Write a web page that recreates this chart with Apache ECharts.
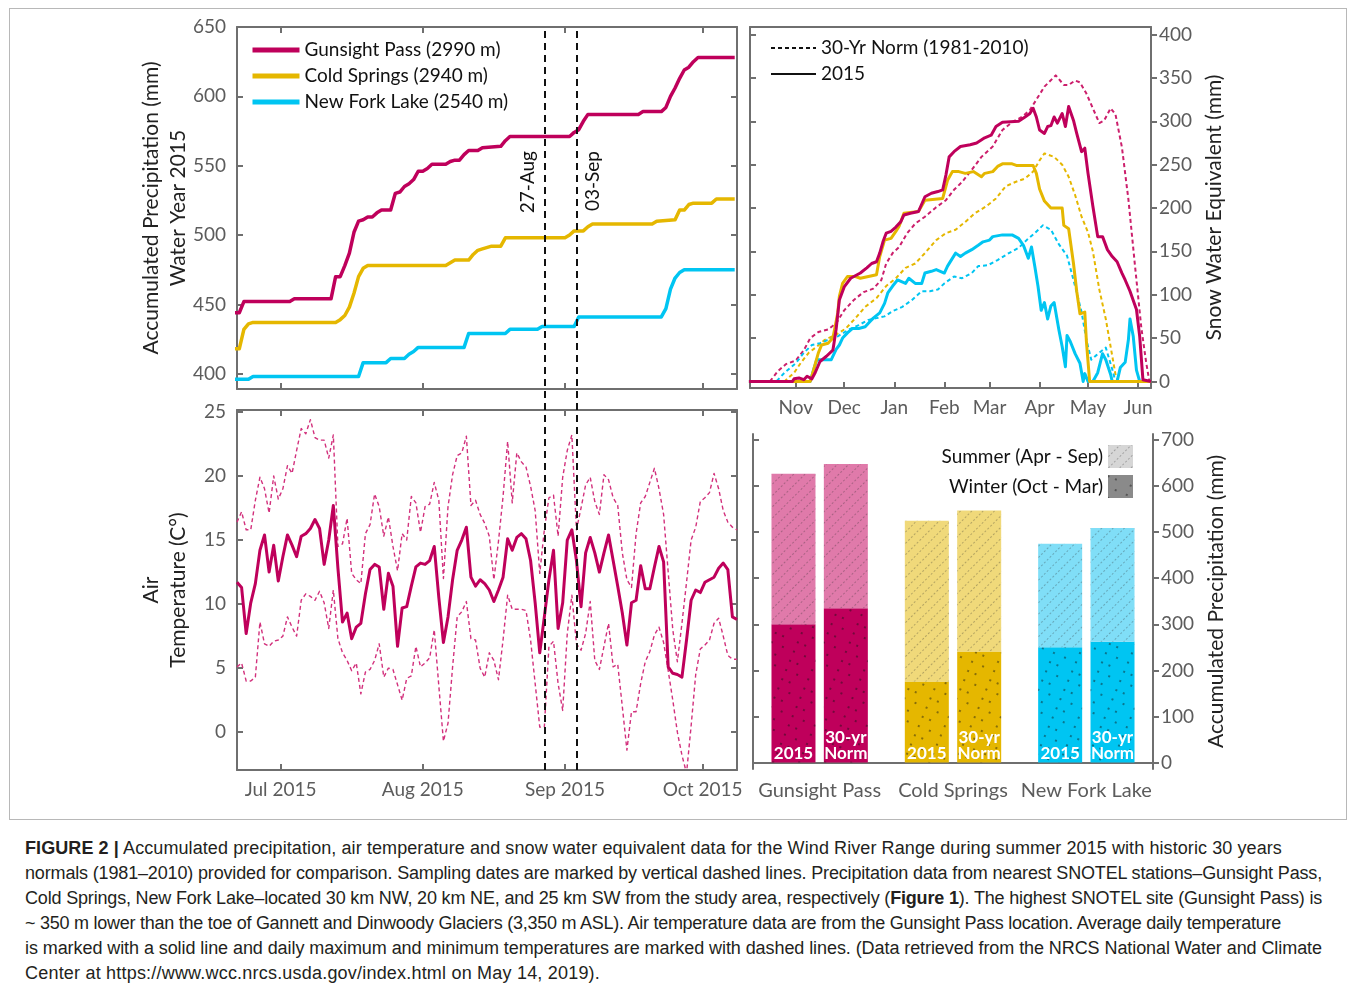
<!DOCTYPE html>
<html>
<head>
<meta charset="utf-8">
<script src="https://cdn.jsdelivr.net/npm/echarts@6/dist/echarts.min.js"></script>
<style>
  html, body { margin: 0; padding: 0; background: #fff; }
  #frame { position: absolute; left: 9px; top: 8px; width: 1338px; height: 812px; border: 1px solid #b8b8b8; box-sizing: border-box; }
  #chart { position: absolute; left: 0; top: 0; width: 1355px; height: 830px; }
  #caption { position: absolute; left: 25px; top: 836px; font-family: "Liberation Sans", Arial, sans-serif; font-size: 18px; line-height: 25px; color: #231f20; }
  #caption div { white-space: nowrap; width: max-content; }
</style>
</head>
<body>
<div id="frame"></div>
<div id="chart"></div>
<div id="caption">
  <div data-w="1257"><b>FIGURE 2 |</b> Accumulated precipitation, air temperature and snow water equivalent data for the Wind River Range during summer 2015 with historic 30 years</div>
  <div data-w="1297">normals (1981–2010) provided for comparison. Sampling dates are marked by vertical dashed lines. Precipitation data from nearest SNOTEL stations–Gunsight Pass,</div>
  <div data-w="1297">Cold Springs, New Fork Lake–located 30 km NW, 20 km NE, and 25 km SW from the study area, respectively (<b>Figure 1</b>). The highest SNOTEL site (Gunsight Pass) is</div>
  <div data-w="1256">~ 350 m lower than the toe of Gannett and Dinwoody Glaciers (3,350 m ASL). Air temperature data are from the Gunsight Pass location. Average daily temperature</div>
  <div data-w="1297">is marked with a solid line and daily maximum and minimum temperatures are marked with dashed lines. (Data retrieved from the NRCS National Water and Climate</div>
  <div data-w="575">Center at https://www.wcc.nrcs.usda.gov/index.html on May 14, 2019).</div>
</div>
<script>
// ---------------- data ----------------
// Accumulated precipitation, water year 2015 (mm), summer 2015
const gunsightPrecipDates = ['2015-06-21','2015-06-22','2015-06-23','2015-07-03','2015-07-04','2015-07-12','2015-07-13','2015-07-14','2015-07-15','2015-07-16','2015-07-17','2015-07-18','2015-07-19','2015-07-20','2015-07-21','2015-07-22','2015-07-23','2015-07-25','2015-07-26','2015-07-27','2015-07-28','2015-07-29','2015-07-30','2015-07-31','2015-08-01','2015-08-02','2015-08-03','2015-08-06','2015-08-07','2015-08-08','2015-08-09','2015-08-10','2015-08-11','2015-08-13','2015-08-14','2015-08-18','2015-08-19','2015-08-20','2015-09-02','2015-09-03','2015-09-04','2015-09-05','2015-09-06','2015-09-17','2015-09-18','2015-09-22','2015-09-23','2015-09-24','2015-09-25','2015-09-26','2015-09-27','2015-09-28','2015-09-29','2015-09-30','2015-10-08'];
const gunsightPrecip = [444,444,452,452,454,454,470,470,478,487,502,510,511,513,513,516,518,518,530,531,535,537,540,546,546,548,551,551,553,554,554,558,561,561,563,564,568,571,571,574,576,582,587,587,589,589,592,600,606,613,619,621,625,628,628];

const coldPrecipDates = ['2015-06-21','2015-06-22','2015-06-23','2015-06-24','2015-06-25','2015-07-13','2015-07-14','2015-07-15','2015-07-16','2015-07-17','2015-07-18','2015-07-19','2015-07-20','2015-08-06','2015-08-07','2015-08-08','2015-08-11','2015-08-12','2015-08-13','2015-08-14','2015-08-16','2015-08-18','2015-08-19','2015-09-01','2015-09-02','2015-09-03','2015-09-05','2015-09-06','2015-09-07','2015-09-20','2015-09-21','2015-09-25','2015-09-26','2015-09-27','2015-09-28','2015-09-29','2015-10-03','2015-10-04','2015-10-08'];
const coldPrecip = [418,418,432,436,437,437,439,442,448,458,470,476,478,478,480,482,482,486,489,490,492,492,498,498,500,503,503,506,508,508,510,511,518,518,522,523,523,526,526];

const newForkPrecipDates = ['2015-06-21','2015-06-24','2015-06-25','2015-07-18','2015-07-19','2015-07-24','2015-07-25','2015-07-28','2015-07-29','2015-07-30','2015-07-31','2015-08-10','2015-08-11','2015-08-19','2015-08-20','2015-08-26','2015-08-27','2015-09-03','2015-09-04','2015-09-22','2015-09-23','2015-09-24','2015-09-25','2015-09-26','2015-09-27','2015-10-08'];
const newForkPrecip = [396,396,398,398,408,408,411,411,414,416,419,419,429,429,432,432,434,434,441,441,447,461,469,473,475,475];

// Gunsight Pass daily air temperature (°C), one value per day from tempStartDate
const tempStartDate = '2015-06-21';
const tempMean = [11.7,11.3,7.7,10.1,11.6,14.2,15.4,12.5,14.6,11.8,13.7,15.4,14.6,13.7,15.3,15.5,15.9,16.6,15.9,13.1,15.0,17.7,12.8,8.6,9.3,7.3,8.2,8.5,10.8,12.7,13.1,12.9,9.6,12.4,11.4,6.7,9.7,9.8,11.4,12.9,13.2,13.1,13.4,14.5,10.5,7.0,9.0,11.9,14.2,15.0,16.0,12.1,11.4,11.9,11.6,11.1,10.2,11.1,12.1,15.1,14.2,15.2,15.5,15.1,13.4,10.1,6.2,9.0,11.9,14.2,8.1,10.1,15.0,15.8,13.4,9.8,14.0,15.2,14.0,12.5,14.0,15.4,13.4,11.4,9.3,6.8,10.1,10.3,13.0,11.2,11.2,12.9,14.5,13.3,5.1,4.6,4.5,4.3,7.2,10.3,11.1,10.9,11.7,11.9,12.1,12.8,13.2,12.7,9.0,8.8];
const tempMax = [16.4,17.2,15.8,15.8,18.1,19.9,19.0,17.1,20.0,18.2,19.0,20.8,20.2,22.0,23.7,23.3,24.4,23.0,22.8,22.8,21.4,23.2,14.5,14.7,16.7,12.4,11.9,11.6,15.5,16.2,18.6,17.6,15.3,16.8,14.5,12.6,15.5,15.0,18.4,17.9,15.6,17.6,17.8,19.5,18.1,12.0,17.6,20.1,21.6,21.8,23.1,17.7,18.1,17.0,16.3,15.3,11.9,14.9,18.4,22.7,17.9,21.8,21.1,20.7,19.2,17.3,12.4,15.8,18.3,18.5,15.3,19.9,22.0,23.2,15.8,17.5,19.3,19.9,18.0,17.0,20.1,19.7,18.3,17.7,14.0,11.9,11.3,15.5,17.9,18.4,19.5,20.6,19.0,17.0,12.5,8.0,5.5,8.5,11.7,15.0,16.0,18.0,18.3,18.7,20.2,19.0,17.3,16.4,16.0,15.8];
const tempMin = [5.1,5.4,4.0,4.0,4.3,8.6,6.9,6.7,7.1,7.2,7.5,9.0,8.2,7.5,10.3,10.8,10.6,10.3,11.0,10.1,8.1,11.1,7.3,6.2,5.6,4.8,5.4,3.0,4.7,4.9,5.6,6.9,4.3,5.0,4.9,3.7,2.5,4.2,4.4,6.7,5.1,5.4,5.8,8.0,3.6,-0.7,0.7,5.1,9.0,9.4,10.2,7.3,7.2,5.0,4.3,6.2,5.6,4.1,7.2,10.7,9.6,9.6,9.6,9.5,7.2,3.8,0.4,0.4,6.7,7.1,3.8,1.7,7.7,10.7,6.9,6.4,7.7,10.2,5.6,4.9,6.7,8.5,5.1,5.3,2.0,-1.4,1.6,1.6,3.8,5.5,6.3,7.6,8.2,7.0,4.8,2.5,0.0,-1.8,-3.2,0.5,4.5,6.5,6.8,7.2,8.5,8.9,7.5,6.0,5.7,5.7];

// Snow water equivalent (mm), water year 2015 and 1981-2010 normal
const gunsightSweDates = ['2014-10-03','2014-10-30','2014-10-31','2014-11-03','2014-11-06','2014-11-08','2014-11-11','2014-11-13','2014-11-16','2014-11-20','2014-11-24','2014-11-26','2014-11-28','2014-12-01','2014-12-05','2014-12-09','2014-12-11','2014-12-15','2014-12-18','2014-12-21','2014-12-23','2014-12-25','2014-12-27','2014-12-30','2015-01-02','2015-01-05','2015-01-07','2015-01-11','2015-01-16','2015-01-20','2015-01-24','2015-01-28','2015-01-31','2015-02-02','2015-02-04','2015-02-07','2015-02-11','2015-02-17','2015-02-21','2015-02-26','2015-03-02','2015-03-05','2015-03-09','2015-03-19','2015-03-23','2015-03-26','2015-03-28','2015-03-30','2015-04-01','2015-04-04','2015-04-06','2015-04-08','2015-04-10','2015-04-12','2015-04-15','2015-04-17','2015-04-19','2015-04-22','2015-04-24','2015-04-27','2015-04-29','2015-05-01','2015-05-04','2015-05-07','2015-05-10','2015-05-13','2015-05-16','2015-05-19','2015-05-22','2015-05-24','2015-05-27','2015-05-31','2015-06-02','2015-06-04','2015-06-05','2015-06-09'];
const gunsightSwe = [0,0,3,4,2,6,3,10,23,29,36,60,94,109,119,123,125,131,136,138,148,161,171,173,178,184,192,194,196,213,217,219,221,238,259,265,271,273,275,281,284,294,299,300,305,309,315,305,290,286,294,295,305,298,309,294,317,301,286,265,269,240,202,167,167,152,144,138,125,117,104,83,52,2,0,0];
const gunsightNormDates = ['2014-10-03','2014-10-16','2014-10-21','2014-10-26','2014-11-01','2014-11-06','2014-11-10','2014-11-15','2014-11-21','2014-11-26','2014-12-01','2014-12-07','2014-12-13','2014-12-19','2014-12-24','2014-12-27','2014-12-31','2015-01-04','2015-01-09','2015-01-14','2015-01-20','2015-01-27','2015-02-02','2015-02-07','2015-02-12','2015-02-18','2015-02-24','2015-03-03','2015-03-09','2015-03-15','2015-03-21','2015-03-26','2015-03-31','2015-04-04','2015-04-11','2015-04-16','2015-04-19','2015-04-23','2015-04-26','2015-04-30','2015-05-04','2015-05-08','2015-05-11','2015-05-15','2015-05-18','2015-05-22','2015-05-26','2015-05-30','2015-06-03','2015-06-06','2015-06-08'];
const gunsightNorm = [0,0,12,20,24,36,50,57,60,67,82,94,103,107,117,136,148,155,171,182,190,201,209,221,230,244,259,271,290,299,305,313,328,340,353,342,342,347,345,332,315,298,301,315,308,270,210,135,62,22,0];

const coldSweDates = ['2014-10-03','2014-11-10','2014-11-12','2014-11-15','2014-11-17','2014-11-21','2014-11-24','2014-11-27','2014-11-28','2014-11-30','2014-12-03','2014-12-08','2014-12-11','2014-12-16','2014-12-21','2014-12-23','2014-12-26','2014-12-30','2015-01-02','2015-01-04','2015-01-07','2015-01-16','2015-01-20','2015-01-31','2015-02-03','2015-02-06','2015-02-10','2015-02-14','2015-02-19','2015-02-24','2015-02-26','2015-03-03','2015-03-06','2015-03-09','2015-03-15','2015-03-18','2015-03-28','2015-03-30','2015-04-01','2015-04-04','2015-04-08','2015-04-15','2015-04-16','2015-04-19','2015-04-22','2015-04-24','2015-04-26','2015-04-29','2015-04-30','2015-05-02','2015-06-09'];
const coldSwe = [0,0,13,33,42,44,50,79,98,113,121,121,119,121,123,144,163,165,173,179,194,196,209,211,232,242,242,240,242,236,240,242,248,251,251,249,249,240,222,208,200,200,180,176,136,104,78,80,46,0,0];
const coldNormDates = ['2014-10-03','2014-10-25','2014-10-31','2014-11-04','2014-11-09','2014-11-14','2014-11-19','2014-11-26','2014-12-02','2014-12-08','2014-12-14','2014-12-21','2014-12-27','2015-01-02','2015-01-08','2015-01-14','2015-01-20','2015-01-27','2015-02-02','2015-02-08','2015-02-14','2015-02-20','2015-02-27','2015-03-05','2015-03-11','2015-03-17','2015-03-23','2015-03-28','2015-04-01','2015-04-04','2015-04-10','2015-04-15','2015-04-19','2015-04-23','2015-04-27','2015-05-01','2015-05-04','2015-05-08','2015-05-12','2015-05-15','2015-05-18','2015-05-20','2015-06-09'];
const coldNorm = [0,0,10,21,33,40,48,54,61,73,86,96,110,119,131,136,148,163,171,175,184,194,202,211,225,230,234,242,255,263,259,250,236,215,190,172,150,106,72,40,8,0,0];

const newForkSweDates = ['2014-10-03','2014-11-10','2014-11-12','2014-11-14','2014-11-23','2014-11-26','2014-11-28','2014-11-30','2014-12-03','2014-12-06','2014-12-10','2014-12-14','2014-12-17','2014-12-19','2014-12-23','2014-12-26','2014-12-28','2014-12-31','2015-01-03','2015-01-08','2015-01-10','2015-01-14','2015-01-18','2015-01-20','2015-01-24','2015-01-27','2015-02-01','2015-02-03','2015-02-08','2015-02-11','2015-02-14','2015-02-18','2015-02-22','2015-02-25','2015-03-01','2015-03-03','2015-03-09','2015-03-15','2015-03-19','2015-03-22','2015-03-25','2015-03-27','2015-03-29','2015-03-31','2015-04-02','2015-04-04','2015-04-06','2015-04-08','2015-04-10','2015-04-13','2015-04-15','2015-04-17','2015-04-18','2015-04-20','2015-04-23','2015-04-26','2015-04-28','2015-04-29','2015-05-01','2015-05-04','2015-05-07','2015-05-10','2015-05-12','2015-05-15','2015-05-16','2015-05-19','2015-05-21','2015-05-24','2015-05-26','2015-05-27','2015-05-29','2015-05-31','2015-06-02','2015-06-09'];
const newForkSwe = [0,0,13,25,25,37,42,50,56,61,61,63,69,73,79,90,102,110,117,113,119,113,113,125,127,129,125,133,148,144,148,152,157,161,163,167,169,169,165,157,142,155,133,110,82,91,72,87,91,59,40,17,53,46,32,21,0,9,0,0,10,32,25,8,0,0,16,22,48,72,52,13,0,0];
const newForkNormDates = ['2014-10-03','2014-10-20','2014-10-25','2014-11-01','2014-11-06','2014-11-11','2014-11-16','2014-11-21','2014-11-27','2014-12-04','2014-12-10','2014-12-16','2014-12-21','2014-12-26','2014-12-31','2015-01-06','2015-01-12','2015-01-18','2015-01-23','2015-01-28','2015-02-01','2015-02-07','2015-02-12','2015-02-18','2015-02-22','2015-02-28','2015-03-06','2015-03-13','2015-03-19','2015-03-24','2015-03-29','2015-04-03','2015-04-08','2015-04-13','2015-04-18','2015-04-22','2015-04-25','2015-04-27','2015-04-30','2015-05-03','2015-05-06','2015-05-12','2015-05-16','2015-05-18','2015-06-09'];
const newForkNorm = [0,0,10,21,33,42,44,48,52,60,65,71,73,75,81,86,94,104,104,106,113,121,119,125,133,134,140,148,154,163,171,180,175,158,145,117,95,80,48,25,30,39,14,0,0];

// Seasonal accumulated precipitation (mm)
const stations = ['Gunsight Pass', 'Cold Springs', 'New Fork Lake'];
const winter2015 = [300, 176, 250];
const summer2015 = [327, 349, 225];
const winterNorm = [335, 241, 262];
const summerNorm = [313, 306, 247];

// Axis ticks
const summerTickDates = ['2015-07-01', '2015-08-01', '2015-09-01', '2015-10-01'];
const summerTickLabels = ['Jul 2015', 'Aug 2015', 'Sep 2015', 'Oct 2015'];
const sweTickDates = ['2014-11-01', '2014-12-01', '2015-01-01', '2015-02-01', '2015-03-01', '2015-04-01', '2015-05-01', '2015-06-01'];
const sweTickLabels = ['Nov', 'Dec', 'Jan', 'Feb', 'Mar', 'Apr', 'May', 'Jun'];
const precipTicks = [400, 450, 500, 550, 600, 650];
const tempTicks = [0, 5, 10, 15, 20, 25];
const sweTicks = [0, 50, 100, 150, 200, 250, 300, 350, 400];
const barTicks = [0, 100, 200, 300, 400, 500, 600, 700];

// Sampling dates
const samplingDates = ['2015-08-27', '2015-09-03'];
const samplingLabels = ['27-Aug', '03-Sep'];

// ---------------- helpers ----------------
function ts(s) {
  const [d, h] = s.split(' ');
  const [y, m, dd] = d.split('-').map(Number);
  return new Date(y, m - 1, dd, h ? Number(h) : 0).getTime();
}
function pairs(dates, vals) { return dates.map((d, i) => [ts(d), vals[i]]); }
function dailyPairs(start, vals) {
  const [y, m, d] = start.split('-').map(Number);
  return vals.map((v, i) => [new Date(y, m - 1, d + i, 12).getTime(), v]);
}

const FONT = 'Lato, "Noto Sans", sans-serif';
const AXIS = { color: '#6f6f6f', width: 2 };
const LABEL = { color: '#5c5c5c', fontSize: 19, fontFamily: FONT };
const NAME = { color: '#222', fontSize: 21, fontFamily: FONT, lineHeight: 27 };

const MAGENTA = '#bf005b', GOLD = '#e5b700', CYAN = '#00c5f2';
const stationColors = [MAGENTA, GOLD, CYAN];
const summerColors = ['#e07aaa', '#f0d97a', '#80def7'];

const summerMin = ts('2015-06-21 12'), summerMax = ts('2015-10-08 12');
const sweMin = ts('2014-10-03 16'), sweMax = ts('2015-06-09');
const summerTicks = summerTickDates.map(d => ts(d));
const sweMonthTicks = sweTickDates.map(d => ts(d));

const dotDecal = { symbol: 'circle', symbolSize: 1, color: 'rgba(20,20,20,0.6)', dashArrayX: [[2, 10], [2, 6, 2, 14]], dashArrayY: [2, 8], rotation: 0.4 };
const hatchDecal = { symbol: 'rect', symbolSize: 1, color: 'rgba(40,40,40,0.3)', dashArrayX: [2, 2], dashArrayY: [1, 7], rotation: -Math.PI / 4 };

// ---------------- axes ----------------
// dates are plotted as millisecond values on numeric axes, with month ticks listed explicitly
function dateAxis(grid, min, max, ticks, position, labels) {
  return {
    gridIndex: grid, type: 'value', min, max, position, scale: true,
    axisLine: { show: true, onZero: false, lineStyle: AXIS },
    axisTick: { show: true, inside: true, length: 6, customValues: ticks, lineStyle: AXIS },
    axisLabel: labels ? Object.assign({ show: true, margin: 10, customValues: ticks, formatter: v => labels[ticks.indexOf(v)] || '' }, LABEL) : { show: false },
    splitLine: { show: false }
  };
}
function valueAxis(grid, min, max, ticks, position, opts) {
  opts = opts || {};
  return Object.assign({
    gridIndex: grid, type: 'value', min, max, position,
    axisLine: { show: true, onZero: false, lineStyle: AXIS },
    axisTick: { show: true, inside: !opts.outside, length: 6, customValues: ticks, lineStyle: AXIS },
    axisLabel: opts.labels ? Object.assign({ show: true, margin: opts.outside ? 8 : 11, customValues: ticks }, LABEL) : { show: false },
    splitLine: { show: false }
  }, opts.name ? { name: opts.name, nameLocation: 'middle', nameGap: opts.nameGap, nameRotate: 90, nameMoveOverlap: false, nameTextStyle: NAME } : {});
}

const xAxis = [
  dateAxis(0, summerMin, summerMax, summerTicks, 'bottom', null),
  dateAxis(0, summerMin, summerMax, summerTicks, 'top', null),
  dateAxis(1, summerMin, summerMax, summerTicks, 'bottom', summerTickLabels),
  dateAxis(1, summerMin, summerMax, summerTicks, 'top', null),
  dateAxis(2, sweMin, sweMax, sweMonthTicks, 'bottom', sweTickLabels),
  Object.assign(dateAxis(2, sweMin, sweMax, sweMonthTicks, 'top', null), { axisTick: { show: false } }),
  { gridIndex: 3, type: 'category', data: stations, position: 'bottom',
    axisLine: { show: true, lineStyle: AXIS }, axisTick: { show: false },
    axisLabel: Object.assign({ margin: 12, interval: 0 }, LABEL, { fontSize: 20 }) },
  { gridIndex: 3, type: 'category', data: stations, position: 'top',
    axisLine: { show: true, lineStyle: AXIS }, axisTick: { show: false }, axisLabel: { show: false } },
  { gridIndex: 4, type: 'value', min: summerMin, max: summerMax, show: false }
];
const yAxis = [
  valueAxis(0, 389, 650, precipTicks, 'left', { labels: true, name: 'Accumulated Precipitation (mm)\nWater Year 2015', nameGap: 45 }),
  valueAxis(0, 389, 650, precipTicks, 'right'),
  valueAxis(1, -2.95, 25.15, tempTicks, 'left', { labels: true, name: 'Air\nTemperature (C°)', nameGap: 45 }),
  valueAxis(1, -2.95, 25.15, tempTicks, 'right'),
  valueAxis(2, -7.6, 408.8, sweTicks, 'right', { labels: true, outside: true, name: 'Snow Water Equivalent (mm)', nameGap: 50 }),
  valueAxis(2, -7.6, 408.8, sweTicks, 'left'),
  valueAxis(3, -14, 713, barTicks, 'right', { labels: true, outside: true, name: 'Accumulated Precipitation (mm)', nameGap: 50 }),
  valueAxis(3, -14, 713, barTicks, 'left'),
  { gridIndex: 4, type: 'value', min: 0, max: 1, show: false }
];

// ---------------- series ----------------
function line(name, xi, yi, data, color, width, dashed) {
  return {
    name, type: 'line', xAxisIndex: xi, yAxisIndex: yi, data, symbol: 'none', showSymbol: false,
    lineStyle: { color, width, type: dashed ? [4, 3] : 'solid', cap: 'butt', join: 'round' },
    itemStyle: { color }, clip: true, silent: true
  };
}

const series = [
  // precipitation
  line('Gunsight Pass (2990 m)', 0, 0, pairs(gunsightPrecipDates, gunsightPrecip), MAGENTA, 3.5),
  line('Cold Springs (2940 m)', 0, 0, pairs(coldPrecipDates, coldPrecip), GOLD, 3.5),
  line('New Fork Lake (2540 m)', 0, 0, pairs(newForkPrecipDates, newForkPrecip), CYAN, 3.5),
  // temperature
  line('Daily max', 2, 2, dailyPairs(tempStartDate, tempMax), '#d2307c', 1.4, true),
  line('Daily min', 2, 2, dailyPairs(tempStartDate, tempMin), '#d2307c', 1.4, true),
  line('Daily mean', 2, 2, dailyPairs(tempStartDate, tempMean), MAGENTA, 3),
  // snow water equivalent
  line('Gunsight Pass normal', 4, 4, pairs(gunsightNormDates, gunsightNorm), '#cc1f6c', 2, true),
  line('Cold Springs normal', 4, 4, pairs(coldNormDates, coldNorm), GOLD, 2, true),
  line('New Fork Lake normal', 4, 4, pairs(newForkNormDates, newForkNorm), CYAN, 2, true),
  line('New Fork Lake 2015', 4, 4, pairs(newForkSweDates, newForkSwe), CYAN, 3),
  line('Cold Springs 2015', 4, 4, pairs(coldSweDates, coldSwe), GOLD, 3),
  line('Gunsight Pass 2015', 4, 4, pairs(gunsightSweDates, gunsightSwe), MAGENTA, 3),
  // legend keys for the snow panel
  line('30-Yr Norm (1981-2010)', 4, 4, [], '#111', 2, true),
  line('2015', 4, 4, [], '#111', 3.5),
  // seasonal bars
  {
    name: 'Winter 2015', type: 'bar', xAxisIndex: 6, yAxisIndex: 6, stack: 'y2015', barWidth: 44, barGap: '19%',
    data: winter2015.map((v, i) => ({ value: v, itemStyle: { color: stationColors[i] } })),
    itemStyle: { decal: dotDecal },
    label: { show: true, position: 'insideBottom', distance: 1, formatter: '2015', color: '#fff', fontWeight: 'bold', fontSize: 17, fontFamily: FONT },
    silent: true
  },
  {
    name: 'Summer 2015', type: 'bar', xAxisIndex: 6, yAxisIndex: 6, stack: 'y2015', barWidth: 44, barGap: '19%',
    data: summer2015.map((v, i) => ({ value: v, itemStyle: { color: summerColors[i] } })),
    itemStyle: { decal: hatchDecal }, silent: true
  },
  {
    name: 'Winter normal', type: 'bar', xAxisIndex: 6, yAxisIndex: 6, stack: 'norm', barWidth: 44, barGap: '19%',
    data: winterNorm.map((v, i) => ({ value: v, itemStyle: { color: stationColors[i] } })),
    itemStyle: { decal: dotDecal },
    label: { show: true, position: 'insideBottom', distance: 1, formatter: '30-yr\nNorm', lineHeight: 16, color: '#fff', fontWeight: 'bold', fontSize: 17, fontFamily: FONT },
    silent: true
  },
  {
    name: 'Summer normal', type: 'bar', xAxisIndex: 6, yAxisIndex: 6, stack: 'norm', barWidth: 44, barGap: '19%',
    data: summerNorm.map((v, i) => ({ value: v, itemStyle: { color: summerColors[i] } })),
    itemStyle: { decal: hatchDecal }, silent: true
  },
  // legend keys for the bar panel
  { name: 'Summer (Apr - Sep)', type: 'bar', xAxisIndex: 8, yAxisIndex: 8, data: [], itemStyle: { color: '#d6d6d6', decal: hatchDecal } },
  { name: 'Winter (Oct - Mar)', type: 'bar', xAxisIndex: 8, yAxisIndex: 8, data: [], itemStyle: { color: '#8a8a8a', decal: dotDecal } },
  // sampling dates, drawn across both summer panels
  {
    name: 'Sampling', type: 'line', xAxisIndex: 8, yAxisIndex: 8, data: [], silent: true,
    markLine: {
      symbol: 'none', silent: true, animation: false,
      lineStyle: { color: '#111', width: 2, type: [7, 5] },
      data: samplingDates.map((d, i) => ({
        xAxis: ts(d + ' 12'),
        label: {
          show: true, formatter: samplingLabels[i], position: i === 0 ? 'insideEndTop' : 'insideEndBottom',
          distance: [124, 7], color: '#111', fontSize: 19, fontFamily: FONT
        }
      }))
    }
  }
];

const legendText = { fontSize: 19, color: '#111', fontFamily: FONT, lineHeight: 20 };
const option = {
  animation: false,
  textStyle: { fontFamily: FONT },
  grid: [
    { left: 237, top: 27, width: 500, height: 362, outerBoundsMode: 'none' },
    { left: 237, top: 410, width: 500, height: 360, outerBoundsMode: 'none' },
    { left: 750, top: 27, width: 401, height: 361, outerBoundsMode: 'none' },
    { left: 753, top: 434, width: 400, height: 335, outerBoundsMode: 'none' },
    { left: 237, top: 27, width: 500, height: 743, outerBoundsMode: 'none' }
  ],
  xAxis, yAxis, series,
  legend: [
    { data: ['Gunsight Pass (2990 m)', 'Cold Springs (2940 m)', 'New Fork Lake (2540 m)'],
      orient: 'vertical', left: 250, top: 40, padding: 0, itemWidth: 47, itemHeight: 12, itemGap: 6,
      lineStyle: { width: 5 }, itemStyle: { opacity: 0 }, textStyle: legendText, selectedMode: false },
    { data: ['30-Yr Norm (1981-2010)', '2015'],
      orient: 'vertical', left: 770, top: 38, padding: 0, itemWidth: 45, itemHeight: 12, itemGap: 6,
      itemStyle: { opacity: 0 }, textStyle: legendText, selectedMode: false },
    { data: ['Summer (Apr - Sep)', 'Winter (Oct - Mar)'],
      orient: 'vertical', right: 222, top: 445, padding: 0, itemWidth: 25, itemHeight: 23, itemGap: 7, align: 'right',
      icon: 'rect', textStyle: legendText, selectedMode: false }
  ]
};

const chart = echarts.init(document.getElementById('chart'), null, { renderer: 'canvas' });
chart.setOption(option);

// fit each caption line to its set width
document.querySelectorAll('#caption div').forEach(el => {
  const target = Number(el.dataset.w);
  const natural = el.getBoundingClientRect().width;
  const chars = el.textContent.length;
  el.style.letterSpacing = ((target - natural) / chars).toFixed(3) + 'px';
});
</script>
</body>
</html>
